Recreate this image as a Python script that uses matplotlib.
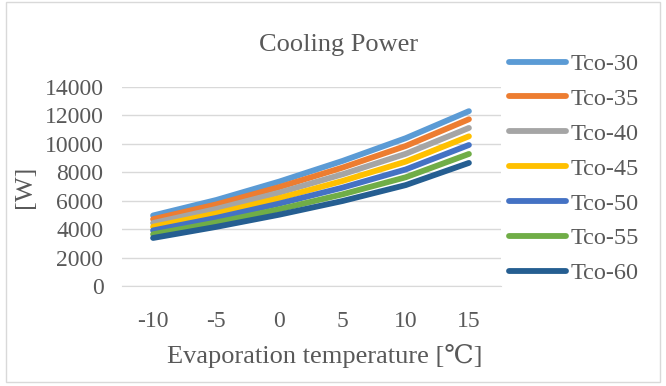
import matplotlib
matplotlib.use("Agg")
import matplotlib.pyplot as plt
from matplotlib.patches import Rectangle

plt.rcParams['font.family'] = ['Liberation Serif', 'DejaVu Serif']

# evaporation temperatures (category axis)
evap_temps = [-10, -5, 0, 5, 10, 15]

# cooling power [W] per condensing temperature
tco_30 = [4960, 6050, 7350, 8800, 10400, 12300]
tco_35 = [4700, 5740, 6960, 8330, 9850, 11730]
tco_40 = [4430, 5420, 6570, 7860, 9300, 11120]
tco_45 = [4170, 5100, 6180, 7390, 8750, 10530]
tco_50 = [3910, 4790, 5800, 6920, 8200, 9920]
tco_55 = [3640, 4470, 5400, 6450, 7650, 9290]
tco_60 = [3380, 4160, 5020, 5980, 7100, 8660]

series_names = ['Tco-30', 'Tco-35', 'Tco-40', 'Tco-45', 'Tco-50', 'Tco-55', 'Tco-60']
series_values = [tco_30, tco_35, tco_40, tco_45, tco_50, tco_55, tco_60]
colors = ['#5B9BD5', '#ED7D31', '#A5A5A5', '#FFC000', '#4472C4', '#70AD47', '#255E91']

y_ticks = [0, 2000, 4000, 6000, 8000, 10000, 12000, 14000]

W, H = 666, 386
fig = plt.figure(figsize=(W / 100, H / 100), dpi=100)
# plot area in pixels: left 121.5, right 500.5, top 87, bottom 286
ax = fig.add_axes([121.5 / W, 1 - 286 / H, (500.5 - 121.5) / W, (286 - 87) / H])

text_col = '#595959'
grid_col = '#D9D9D9'

pos = list(range(len(evap_temps)))
for name, vals, c in zip(series_names, series_values, colors):
    ax.plot(pos, vals, color=c, linewidth=4.2, solid_capstyle='round',
            solid_joinstyle='round', label=name)

ax.set_xlim(-0.5, len(evap_temps) - 0.5)
ax.set_ylim(0, 14000)
ax.set_yticks(y_ticks)
ax.set_yticklabels([str(v) for v in y_ticks])
ax.set_xticks(pos)
ax.set_xticklabels([str(t) for t in evap_temps])
ax.grid(axis='y', color=grid_col, linewidth=1.0)
ax.set_axisbelow(True)
for s in ['top', 'right', 'left']:
    ax.spines[s].set_visible(False)
ax.spines['bottom'].set_color(grid_col)
ax.tick_params(axis='both', length=0, labelsize=17, colors=text_col)
ax.tick_params(axis='y', pad=13)
ax.tick_params(axis='x', pad=18)

ax.set_ylabel('[W]', fontsize=19, color=text_col, labelpad=6)
ax.set_xlabel('Evaporation temperature [℃]', fontsize=19, color=text_col, labelpad=8)
ax.xaxis.set_label_coords((325 - 121.5) / (500.5 - 121.5), -0.29)

fig.text(339 / W, 1 - 45 / H, 'Cooling Power', fontsize=19, color=text_col,
         ha='center', va='center')

ax.legend(loc='upper left', bbox_to_anchor=(509 / W, 1 - 53 / H),
          bbox_transform=fig.transFigure, frameon=False, fontsize=17.5,
          labelcolor=text_col, handlelength=2.35, handletextpad=0.18,
          labelspacing=0.53, borderaxespad=0, borderpad=0)

# chart border
fig.patches.append(Rectangle((6 / W, 4 / H), 654 / W, 380 / H, transform=fig.transFigure,
                             fill=False, edgecolor=grid_col, linewidth=1.0))

fig.savefig('out.png', dpi=100)
